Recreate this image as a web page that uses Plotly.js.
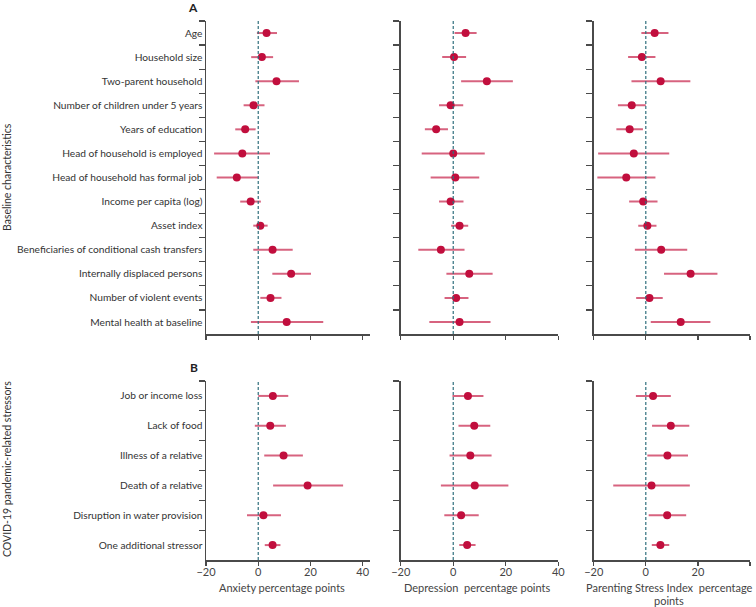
<!DOCTYPE html>
<html>
<head>
<meta charset="utf-8">
<script src="https://cdn.plot.ly/plotly-3.0.1.min.js"></script>
<style>html,body{margin:0;padding:0;background:#fff;}#chart{width:756px;height:607px;}</style>
</head>
<body>
<div id="chart"></div>
<script>
// ---------- Data ----------
const baselineLabels = ["Age","Household size","Two-parent household","Number of children under 5 years","Years of education","Head of household is employed","Head of household has formal job","Income per capita (log)","Asset index","Beneficiaries of conditional cash transfers","Internally displaced persons","Number of violent events","Mental health at baseline"];
const stressorLabels = ["Job or income loss","Lack of food","Illness of a relative","Death of a relative","Disruption in water provision","One additional stressor"];

// Panel A – Anxiety
const anxA_est = [3.2, 1.4, 7.0, -1.8, -5.0, -6.1, -8.2, -2.9, 0.8, 5.5, 12.6, 4.7, 10.9];
const anxA_lo  = [-0.5, -2.7, -1.1, -5.6, -8.8, -16.9, -15.9, -6.9, -1.9, -1.9, 5.4, 0.8, -2.8];
const anxA_hi  = [7.2, 5.7, 15.6, 2.4, -1.0, 4.5, 0.0, 1.0, 3.6, 13.2, 20.2, 8.9, 24.9];
// Panel A – Depression
const depA_est = [4.7, 0.3, 12.8, -1.0, -6.5, 0.0, 0.8, -1.0, 2.4, -4.7, 6.1, 1.1, 2.4];
const depA_lo  = [0.5, -4.2, 3.0, -5.4, -10.8, -12.0, -8.6, -5.4, -0.8, -13.3, -2.6, -3.3, -9.1];
const depA_hi  = [8.9, 4.9, 22.7, 3.8, -2.0, 12.0, 9.9, 3.9, 5.7, 4.3, 15.0, 5.8, 14.2];
// Panel A – Parenting Stress Index
const psiA_est = [3.4, -1.5, 5.7, -5.4, -6.2, -4.6, -7.5, -1.0, 0.6, 5.9, 17.2, 1.4, 13.4];
const psiA_lo  = [-1.7, -6.8, -5.5, -10.7, -11.3, -18.3, -18.6, -6.4, -2.9, -4.2, 7.0, -3.7, 1.9];
const psiA_hi  = [8.7, 3.7, 17.1, 0.0, -1.1, 9.0, 3.7, 4.5, 4.1, 15.9, 27.5, 6.5, 24.8];

// Panel B – Anxiety
const anxB_est = [5.6, 4.6, 9.7, 18.9, 2.0, 5.5];
const anxB_lo  = [0.0, -1.3, 2.3, 5.7, -4.3, 2.5];
const anxB_hi  = [11.5, 10.6, 17.1, 32.5, 8.7, 8.5];
// Panel B – Depression
const depB_est = [5.6, 8.0, 6.5, 8.2, 3.0, 5.3];
const depB_lo  = [-0.3, 2.0, -1.4, -4.7, -3.4, 2.3];
const depB_hi  = [11.5, 14.1, 14.6, 21.0, 9.7, 8.5];
// Panel B – Parenting Stress Index
const psiB_est = [2.8, 9.6, 8.3, 2.2, 8.2, 5.6];
const psiB_lo  = [-3.8, 2.4, 0.6, -12.5, 1.1, 2.3];
const psiB_hi  = [9.6, 16.7, 16.2, 16.9, 15.5, 9.0];

const xTickVals = [-20, 0, 20, 40];
// x-axis titles, one array entry per text line
const xTitles = [["Anxiety percentage points"], ["Depression  percentage points"], ["Parenting Stress Index  percentage", "points"]];

// ---------- Styling ----------
const FONT = "Lato, 'Liberation Sans', Arial, sans-serif";
const DOT = "#c10e3d";
const BAR = "rgba(205,60,95,0.8)";
const AXC = "#4a4a4a";
const W = 756, H = 607;

function trace(est, lo, hi, labels, xa, ya) {
  return {
    type: "scatter", mode: "markers",
    x: est, y: labels, xaxis: xa, yaxis: ya,
    marker: {color: DOT, size: 8},
    error_x: {type: "data", symmetric: false,
      array: hi.map((h, i) => h - est[i]),
      arrayminus: lo.map((l, i) => est[i] - l),
      width: 0, thickness: 2, color: BAR},
    hoverinfo: "x+y", showlegend: false
  };
}

const data = [
  trace(anxA_est, anxA_lo, anxA_hi, baselineLabels, "x", "y"),
  trace(depA_est, depA_lo, depA_hi, baselineLabels, "x2", "y2"),
  trace(psiA_est, psiA_lo, psiA_hi, baselineLabels, "x3", "y3"),
  trace(anxB_est, anxB_lo, anxB_hi, stressorLabels, "x4", "y4"),
  trace(depB_est, depB_lo, depB_hi, stressorLabels, "x5", "y5"),
  trace(psiB_est, psiB_lo, psiB_hi, stressorLabels, "x6", "y6")
];

const colPx = [[206, 370, 42.8], [400.7, 558.3, 40], [593.7, 750, 40]];
const rowPx = [[21, 334], [381, 560]];
const titleCx = [282, 477, 669];

const layout = {
  width: W, height: H,
  margin: {l: 0, r: 0, t: 0, b: 0},
  paper_bgcolor: "#fff", plot_bgcolor: "#fff",
  font: {family: FONT, size: 10.5, color: "#333"},
  showlegend: false,
  shapes: [], annotations: []
};

for (let r = 0; r < 2; r++) {
  for (let c = 0; c < 3; c++) {
    const idx = r * 3 + c + 1;
    const xk = idx === 1 ? "xaxis" : "xaxis" + idx;
    const yk = idx === 1 ? "yaxis" : "yaxis" + idx;
    const xr = idx === 1 ? "x" : "x" + idx;
    const yr = idx === 1 ? "y" : "y" + idx;
    const labels = r === 0 ? baselineLabels : stressorLabels;
    const n = labels.length;
    layout[xk] = {
      domain: [colPx[c][0] / W, colPx[c][1] / W],
      anchor: yr,
      range: [-20, colPx[c][2]],
      tickvals: xTickVals,
      ticks: "outside", ticklen: 4, tickwidth: 1.2, tickcolor: AXC,
      showticklabels: r === 1,
      ticklabelstandoff: -3,
      tickfont: {family: FONT, size: 11, color: "#444"},
      showline: true, linecolor: AXC, linewidth: 1.5,
      showgrid: false, zeroline: false
    };
    layout[yk] = {
      domain: [1 - rowPx[r][1] / H, 1 - rowPx[r][0] / H],
      anchor: xr,
      type: "category",
      categoryorder: "array", categoryarray: labels,
      range: [n - 0.5, -0.5],
      tickson: "boundaries",
      ticks: "outside", ticklen: 6, tickwidth: 1.2, tickcolor: AXC,
      showticklabels: c === 0,
      tickfont: {family: FONT, size: 10.2, color: "#333"},
      showline: true, linecolor: AXC, linewidth: 1.5,
      showgrid: false, zeroline: false
    };
    layout.shapes.push({
      type: "line", xref: xr, yref: yr + " domain",
      x0: 0, x1: 0, y0: 0, y1: 1,
      line: {color: "#2f6e7c", width: 1.2, dash: "3px,2px"}
    });
    if (r === 1) {
      xTitles[c].forEach((line, k) => {
        layout.annotations.push({
          text: line, x: titleCx[c] / W, y: 1 - (587 + 13 * k) / H,
          xref: "paper", yref: "paper", showarrow: false,
          xanchor: "center", yanchor: "middle", borderpad: 0,
          font: {family: FONT, size: 11, color: "#444"}
        });
      });
    }
  }
}

layout.annotations.push(
  {text: "<b>A</b>", x: 193 / W, y: 1 - 7 / H, xref: "paper", yref: "paper", showarrow: false, font: {family: FONT, size: 12, color: "#222"}, xanchor: "center", yanchor: "middle"},
  {text: "<b>B</b>", x: 194 / W, y: 1 - 367 / H, xref: "paper", yref: "paper", showarrow: false, font: {family: FONT, size: 12, color: "#222"}, xanchor: "center", yanchor: "middle"},
  {text: "Baseline characteristics", x: 7 / W, y: 1 - 177 / H, xref: "paper", yref: "paper", showarrow: false, textangle: -90, font: {family: FONT, size: 10.5, color: "#333"}, xanchor: "center", yanchor: "middle"},
  {text: "COVID-19 pandemic-related stressors", x: 7 / W, y: 1 - 469 / H, xref: "paper", yref: "paper", showarrow: false, textangle: -90, font: {family: FONT, size: 10.5, color: "#333"}, xanchor: "center", yanchor: "middle"}
);

Plotly.newPlot("chart", data, layout, {displayModeBar: false, staticPlot: true});
</script>
</body>
</html>
